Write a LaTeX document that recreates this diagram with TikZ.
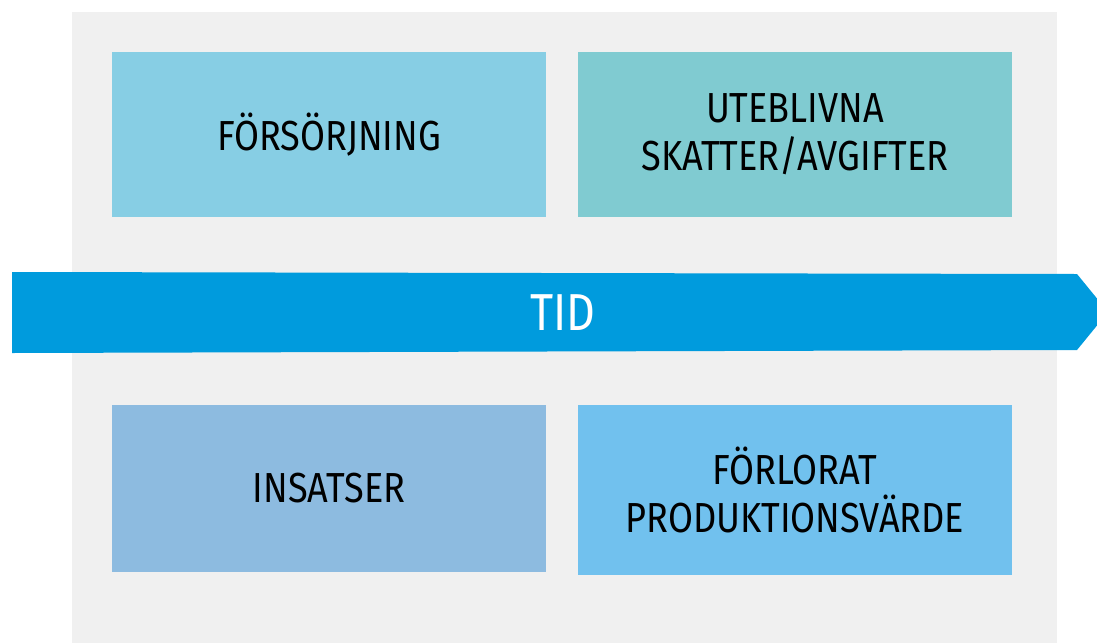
\documentclass[tikz,border=0pt]{standalone}
\usepackage{fontspec}
\setmainfont{Fira Sans}[FakeStretch=0.86]
\definecolor{panel}{HTML}{F0F0F0}
\definecolor{cTL}{HTML}{87CEE4}
\definecolor{cTR}{HTML}{80CBD1}
\definecolor{cBL}{HTML}{8DBBE0}
\definecolor{cBR}{HTML}{71C1EE}
\definecolor{arrowblue}{HTML}{009BDD}
\begin{document}
\begin{tikzpicture}[x=1pt,y=-1pt,
  box/.style={draw=none,minimum width=434pt,inner sep=0pt,align=center,
    font=\fontsize{42}{48}\selectfont,text=black}]
\useasboundingbox (0,0) rectangle (1097,643);
\fill[white] (0,0) rectangle (1097,643);
\fill[panel] (72,12) rectangle (1057,643);
\node[box,fill=cTL,minimum height=165pt] (tl) at (329,134.5) {FÖRSÖRJNING};
\node[box,fill=cTR,minimum height=165pt] (tr) at (795,134.5) {UTEBLIVNA\\SKATTER/AVGIFTER};
\node[box,fill=cBL,minimum height=167pt] (bl) at (329,488.5) {INSATSER};
\node[box,fill=cBR,minimum height=170pt] (br) at (795,490) {FÖRLORAT\\PRODUKTIONSVÄRDE};
\fill[arrowblue] (12,272) -- (1077,274) -- (1108,312) -- (1077,350) -- (12,353) -- cycle;
\node[text=white,font=\fontsize{52}{56}\selectfont,inner sep=0pt] (tid) at (563,313) {TID};
\end{tikzpicture}
\end{document}
